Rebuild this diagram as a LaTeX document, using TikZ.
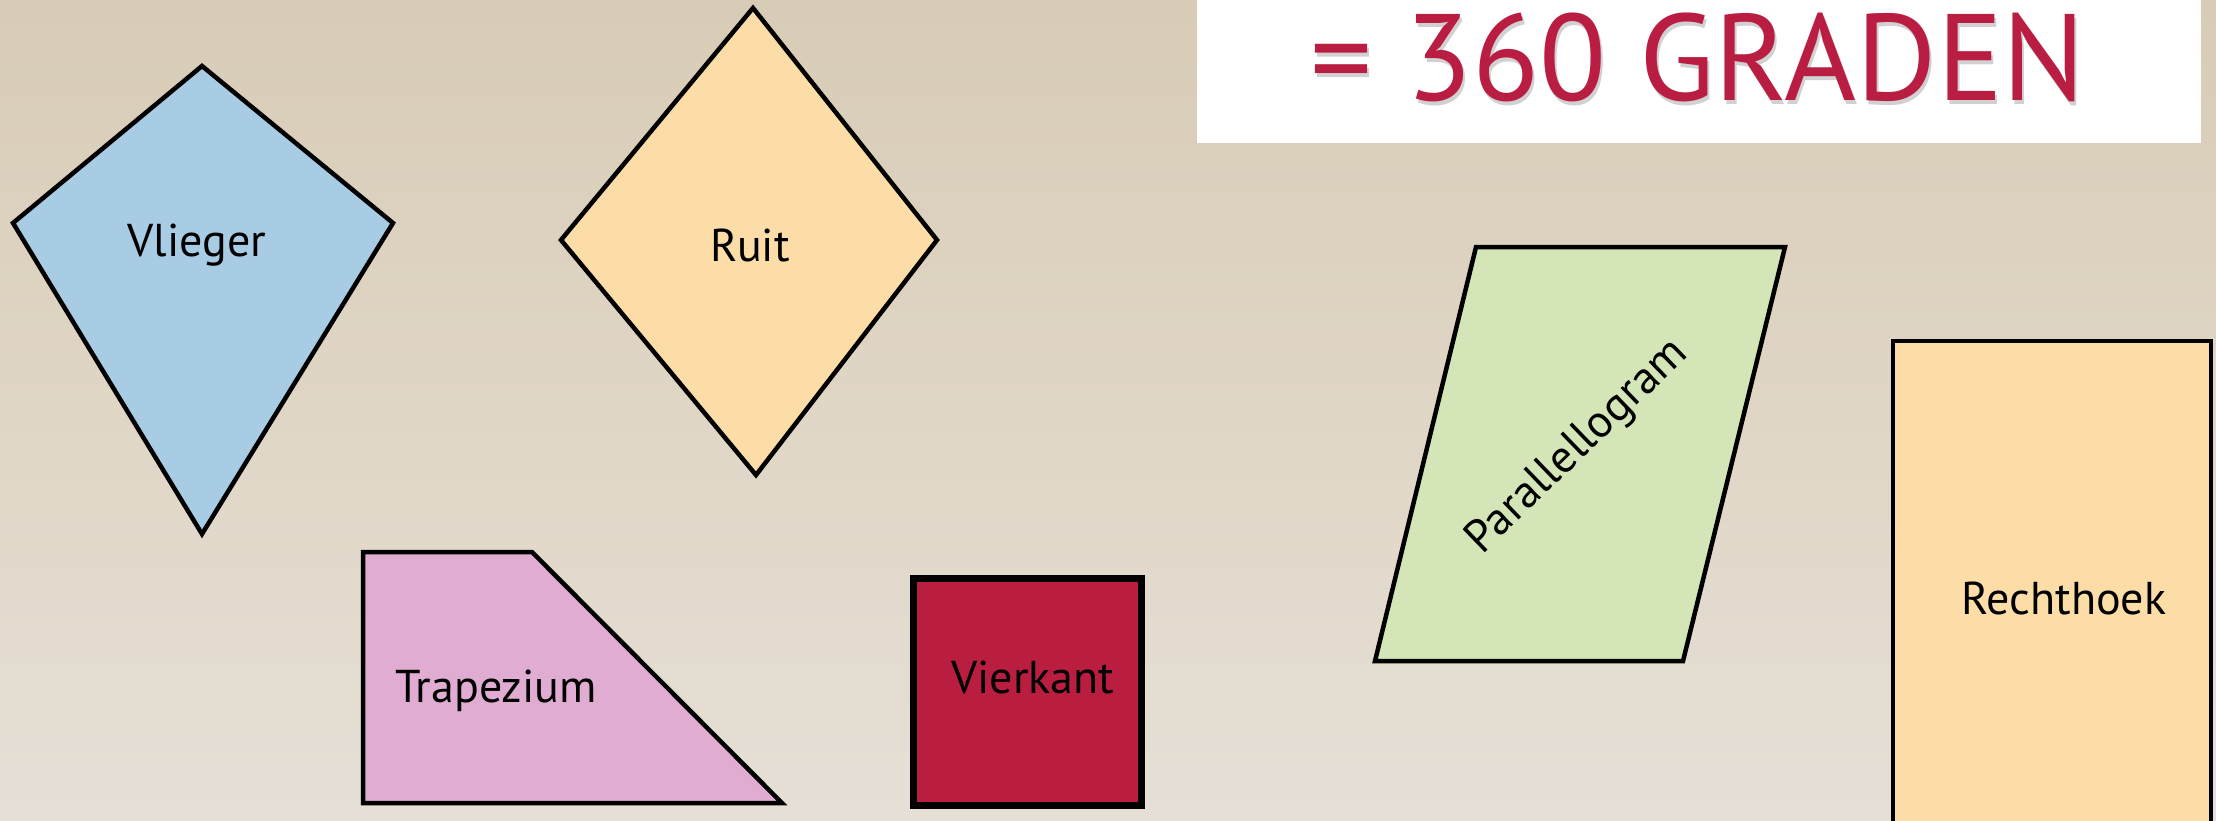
\documentclass[tikz,border=0pt]{standalone}
\usepackage{fontspec}
\setmainfont{PT Sans}
\definecolor{bgtop}{RGB}{216,204,182}
\definecolor{bgmid}{RGB}{224,214,198}
\definecolor{bgbot}{RGB}{229,223,214}
\definecolor{kiteblue}{RGB}{168,204,228}
\definecolor{ruitorange}{RGB}{253,221,167}
\definecolor{trappink}{RGB}{224,172,210}
\definecolor{vierred}{RGB}{185,29,64}
\definecolor{pargreen}{RGB}{212,230,184}
\definecolor{titlered}{RGB}{185,30,66}
\begin{document}
\begin{tikzpicture}[x=1pt,y=-1pt,
  shapeline/.style={draw=black, line width=4.5pt, line join=miter},
  lbl/.style={font=\fontsize{46}{50}\selectfont, text=black, inner sep=0pt}]
\useasboundingbox (0,0) rectangle (2216,820);
\clip (0,0) rectangle (2216,820);
\shade[top color=bgtop, bottom color=bgbot, middle color=bgmid] (0,0) rectangle (2216,820);
% title box
\fill[white] (1197,-5) rectangle (2201,143);
\node[anchor=base, text=black, opacity=0.18, inner sep=0pt, font=\fontsize{123}{128}\selectfont] (titleshadow) at (1700,104) {= 360 GRADEN};
\node[anchor=base, text=titlered, inner sep=0pt, font=\fontsize{123}{128}\selectfont] (title) at (1698,100) {= 360 GRADEN};
% Vlieger
\filldraw[fill=kiteblue, shapeline] (202,66) -- (393,223) -- (202,534) -- (13,223) -- cycle;
\node[lbl, anchor=base] (vlieger) at (197,256) {Vlieger};
% Ruit
\filldraw[fill=ruitorange, shapeline] (753,8) -- (937,240) -- (756,475) -- (561,240) -- cycle;
\node[lbl, anchor=base] (ruit) at (750,261) {Ruit};
% Trapezium
\filldraw[fill=trappink, shapeline] (363,552) -- (532,552) -- (782,803) -- (363,803) -- cycle;
\node[lbl, anchor=base] (trapezium) at (496,702) {Trapezium};
% Vierkant
\filldraw[fill=vierred, draw=black, line width=7pt] (913,578) rectangle (1141,805);
\node[lbl, anchor=base] (vierkant) at (1033,693) {Vierkant};
% Parallellogram
\filldraw[fill=pargreen, shapeline] (1476,247) -- (1785,247) -- (1683,661) -- (1375,661) -- cycle;
\node[lbl, rotate=44, anchor=center] (parallellogram) at (1578,447) {Parallellogram};
% Rechthoek
\filldraw[fill=ruitorange, shapeline] (1893,341) rectangle (2211,840);
\node[lbl, anchor=base] (rechthoek) at (2064,614) {Rechthoek};
\end{tikzpicture}
\end{document}
